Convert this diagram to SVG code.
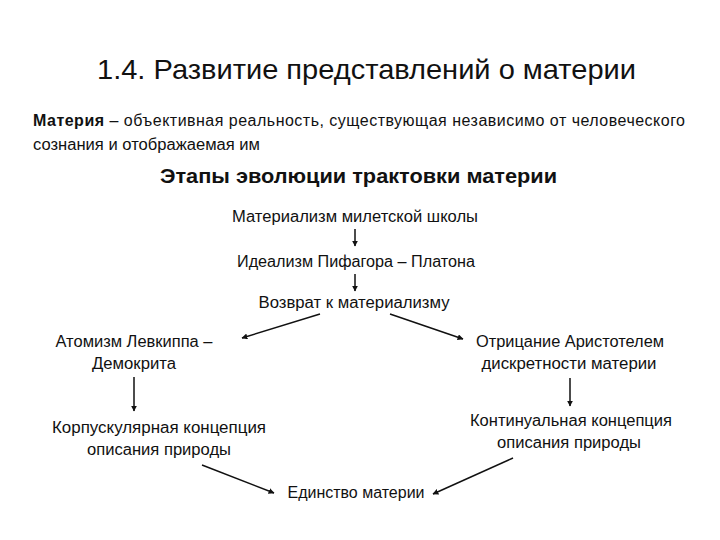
<svg xmlns="http://www.w3.org/2000/svg" width="720" height="540" viewBox="0 0 720 540">
<style>
text{font-family:"Liberation Sans",Arial,sans-serif;fill:#111}
.t{font-size:28px}
.d{font-size:16px}
.h{font-size:21px;font-weight:bold}
.n{font-size:16px;text-anchor:middle}
.c{stroke:#111;stroke-width:1.5;fill:none;marker-end:url(#ah)}
</style>
<defs>
<marker id="ah" viewBox="0 0 10 10" refX="9" refY="5" markerWidth="6" markerHeight="6" markerUnits="userSpaceOnUse" orient="auto">
<path d="M0,0 L10,5 L0,10 z" fill="#111"/>
</marker>
</defs>
<rect width="720" height="540" fill="#fff"/>
<g id="title"><text class="t" x="97" y="79" textLength="539" lengthAdjust="spacingAndGlyphs">1.4. Развитие представлений о материи</text></g>
<g id="definition">
<text class="d" x="33" y="126" textLength="652" lengthAdjust="spacing"><tspan font-weight="bold">Материя</tspan> – объективная реальность, существующая независимо от человеческого</text>
<text class="d" x="33" y="150" textLength="227" lengthAdjust="spacingAndGlyphs">сознания и отображаемая им</text>
</g>
<g id="heading"><text class="h" x="160" y="183" textLength="397" lengthAdjust="spacingAndGlyphs">Этапы эволюции трактовки материи</text></g>
<g id="n1"><text class="n" x="355" y="222" textLength="246" lengthAdjust="spacingAndGlyphs">Материализм милетской школы</text></g>
<g id="n2"><text class="n" x="356" y="267" textLength="238" lengthAdjust="spacingAndGlyphs">Идеализм Пифагора – Платона</text></g>
<g id="n3"><text class="n" x="354" y="308" textLength="191" lengthAdjust="spacingAndGlyphs">Возврат к материализму</text></g>
<g id="n4"><text class="n" x="134" y="347" textLength="157" lengthAdjust="spacingAndGlyphs">Атомизм Левкиппа –</text><text class="n" x="134" y="369" textLength="84" lengthAdjust="spacingAndGlyphs">Демокрита</text></g>
<g id="n5"><text class="n" x="159" y="433" textLength="214" lengthAdjust="spacingAndGlyphs">Корпускулярная концепция</text><text class="n" x="159" y="455" textLength="144" lengthAdjust="spacingAndGlyphs">описания природы</text></g>
<g id="n6"><text class="n" x="570" y="347" textLength="188" lengthAdjust="spacingAndGlyphs">Отрицание Аристотелем</text><text class="n" x="569" y="369" textLength="175" lengthAdjust="spacingAndGlyphs">дискретности материи</text></g>
<g id="n7"><text class="n" x="571" y="426" textLength="202" lengthAdjust="spacingAndGlyphs">Континуальная концепция</text><text class="n" x="569" y="448" textLength="144" lengthAdjust="spacingAndGlyphs">описания природы</text></g>
<g id="n8"><text class="n" x="356" y="498" textLength="137" lengthAdjust="spacingAndGlyphs">Единство материи</text></g>
<g id="connectors">
<line class="c" x1="355" y1="229" x2="355" y2="246"/>
<line class="c" x1="355" y1="274" x2="355" y2="291"/>
<line class="c" x1="320" y1="314" x2="242" y2="338"/>
<line class="c" x1="390" y1="314" x2="463" y2="339"/>
<line class="c" x1="134" y1="377" x2="134" y2="411"/>
<line class="c" x1="570" y1="378" x2="570" y2="406"/>
<line class="c" x1="202" y1="465" x2="274" y2="493"/>
<line class="c" x1="513" y1="458" x2="433" y2="494"/>
</g>
</svg>
